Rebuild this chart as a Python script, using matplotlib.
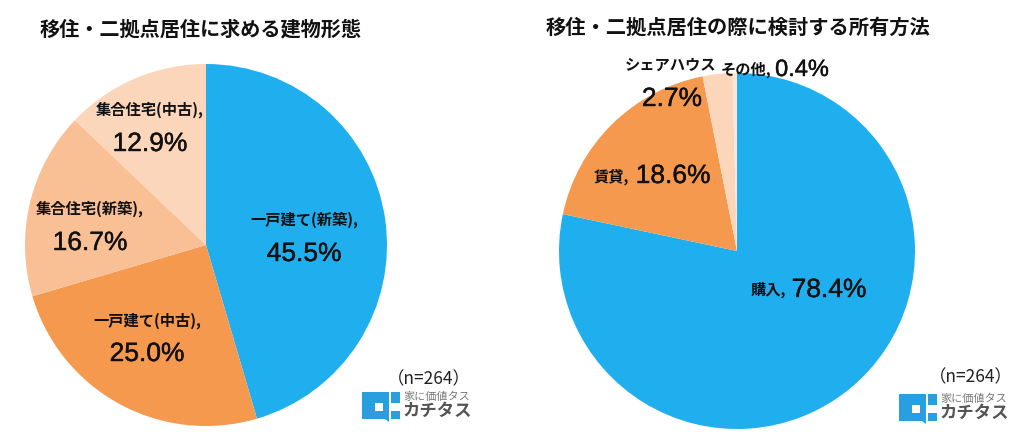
import matplotlib
matplotlib.use("Agg")
import matplotlib.pyplot as plt
import matplotlib.patches as mpatches
import matplotlib.patheffects as pe

plt.rcParams['font.family'] = ['Noto Sans CJK JP', 'DejaVu Sans']

W = 1024
H = 440

# data
title_left = "移住・二拠点居住に求める建物形態"
labels_left = ["一戸建て(新築),", "一戸建て(中古),", "集合住宅(新築),", "集合住宅(中古),"]
values_left = [45.5, 25.0, 16.7, 12.9]
colors_left = ["#20afee", "#f5994f", "#f9bf95", "#fcd6bb"]

title_right = "移住・二拠点居住の際に検討する所有方法"
labels_right = ["購入,", "賃貸,", "シェアハウス", "その他,"]
values_right = [78.4, 18.6, 2.7, 0.4]
colors_right = ["#20afee", "#f5994f", "#fcd6bb", "#fde6d5"]

n_label = "（n=264）"
logo_small = "家に価値タス"
logo_big = "カチタス"


def px_text(fig, x, y, s, size, weight="bold", color="#111111", ha="center"):
	fig.text(x / W, 1 - y / H, s, fontsize = size, fontweight = weight, color = color, ha = ha, va = "center")


def px_number(fig, x, y, value, size=19):
	# the percentages use a latin face with a slight outline
	t = fig.text(x / W, 1 - y / H, "%.1f%%" % value, fontsize = size, family = "Liberation Sans",
		color = "#111111", ha = "center", va = "center")
	t.set_path_effects([pe.withStroke(linewidth = 0.3, foreground = "#111111")])


def draw_pie(fig, cx, cy, r, values, colors):
	ax = fig.add_axes([(cx - r) / W, 1 - (cy + r) / H, 2 * r / W, 2 * r / H])
	ax.pie(values, colors = colors, startangle = 90, counterclock = False, radius = 1.0,
		wedgeprops = {"linewidth": 0})
	ax.set_xlim(-1, 1)
	ax.set_ylim(-1, 1)
	ax.axis("off")


def draw_logo(fig, x, y):
	# x, y = top left corner of the mark in pixels
	ax = fig.add_axes([0, 0, 1, 1], facecolor = "none")
	ax.set_xlim(0, W)
	ax.set_ylim(H, 0)
	ax.axis("off")
	blue = "#2a9fe0"
	ax.add_patch(mpatches.Rectangle((x, y), 27, 27, fc = blue, ec = "none"))
	ax.add_patch(mpatches.Polygon([(x + 23, y + 27), (x + 27, y + 27), (x + 27, y + 30)], fc = blue, ec = "none"))
	ax.add_patch(mpatches.Rectangle((x + 13, y + 11), 8, 8, fc = "white", ec = "none"))
	ax.add_patch(mpatches.Rectangle((x + 29, y), 9, 11, fc = blue, ec = "none"))
	ax.add_patch(mpatches.Rectangle((x + 29, y + 19), 9, 8, fc = blue, ec = "none"))
	px_text(fig, x + 75, y + 4.5, logo_small, 8, weight = "normal", color = "#777777")
	px_text(fig, x + 75, y + 18.5, logo_big, 12.5, weight = "bold", color = "#555555")


def main():

	fig = plt.figure(figsize = (W / 100, H / 100), dpi = 100, facecolor = "white")

	draw_pie(fig, 206, 245, 181, values_left, colors_left)
	draw_pie(fig, 737, 251, 178, values_right, colors_right)

	px_text(fig, 201, 29, title_left, 14.5)
	px_text(fig, 738, 27, title_right, 14.6)

	# left pie labels
	px_text(fig, 304, 220, labels_left[0], 11)
	px_number(fig, 304, 254, values_left[0])
	px_text(fig, 147, 321, labels_left[1], 11)
	px_number(fig, 147, 354, values_left[1])
	px_text(fig, 90, 209, labels_left[2], 11)
	px_number(fig, 90, 243, values_left[2])
	px_text(fig, 150, 110, labels_left[3], 11)
	px_number(fig, 150, 144, values_left[3])

	# right pie labels
	px_text(fig, 768, 290, labels_right[0], 11)
	px_number(fig, 829, 290, values_right[0])
	px_text(fig, 611, 177, labels_right[1], 11)
	px_number(fig, 673, 176, values_right[1])
	px_text(fig, 671, 65, labels_right[2], 11)
	px_number(fig, 672, 99, values_right[2])
	px_text(fig, 746, 70, labels_right[3], 11)
	px_number(fig, 802, 70, values_right[3], size = 17)

	# sample size and logos
	px_text(fig, 429, 379, n_label, 12.5, weight = "normal", color = "#222222")
	px_text(fig, 971, 377, n_label, 12.5, weight = "normal", color = "#222222")
	draw_logo(fig, 362, 392)
	draw_logo(fig, 899, 394)

	fig.savefig("out.png", dpi = 100)


main()
